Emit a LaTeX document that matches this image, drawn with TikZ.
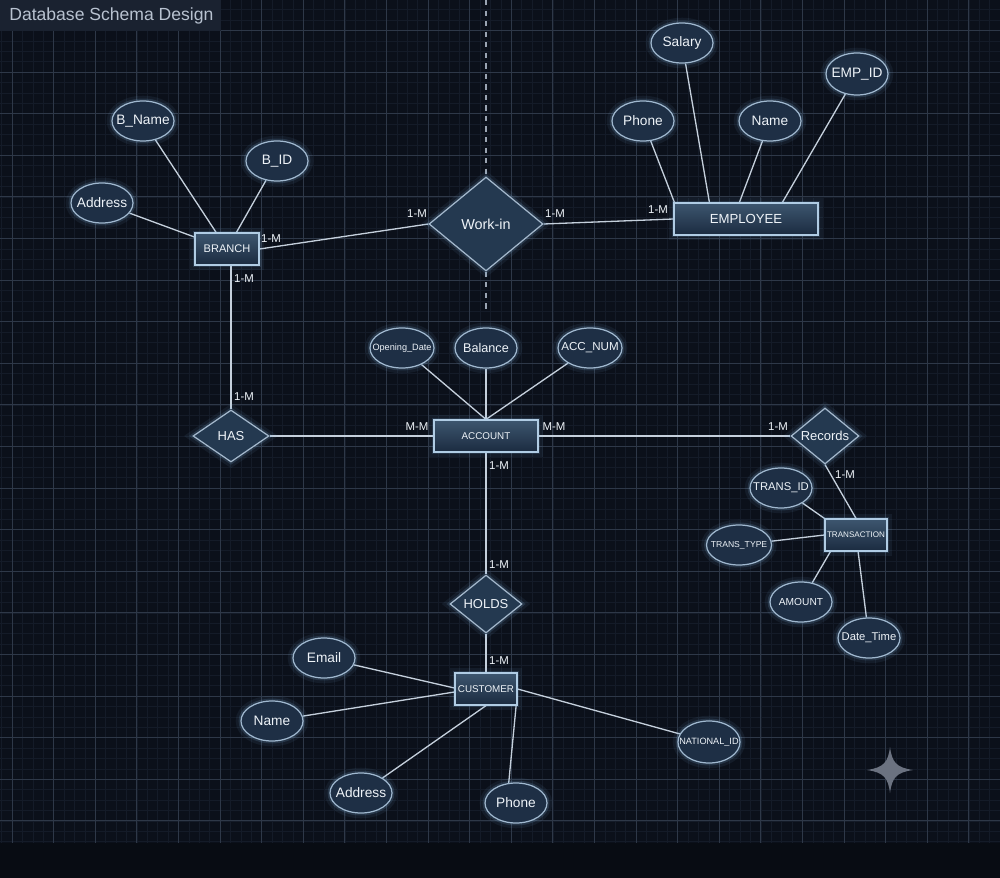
\documentclass[tikz,border=0pt]{standalone}
\usepackage{fontspec}
\setmainfont{Liberation Sans}
\usetikzlibrary{shapes.geometric,calc}
\pgfdeclarelayer{gridlayer}
\pgfdeclarelayer{edgelayer}
\pgfsetlayers{gridlayer,edgelayer,main}
\newcommand{\zw}[1]{\makebox[0pt][c]{#1}}
\definecolor{bgc}{HTML}{0B101A}
\definecolor{bandc}{HTML}{080C13}
\definecolor{majorc}{HTML}{2E3848}
\definecolor{minorc}{HTML}{141B28}
\definecolor{titlebg}{HTML}{1A2230}
\definecolor{titletxt}{HTML}{B8C2D0}
\definecolor{txt}{HTML}{EEF3F8}
\definecolor{linec}{HTML}{C5D0DC}
\definecolor{dashc}{HTML}{9AA4B2}
\definecolor{entb}{HTML}{B0CCE4}
\definecolor{enttop}{HTML}{3D566F}
\definecolor{entbot}{HTML}{1B2B40}
\definecolor{attb}{HTML}{A0B8CF}
\definecolor{attf}{HTML}{1E2F45}
\definecolor{relb}{HTML}{A4B8CC}
\definecolor{relf}{HTML}{243950}
\definecolor{glowc}{HTML}{7FB4E0}
\definecolor{starc}{HTML}{6B7280}
\tikzset{
  glow/.style={preaction={draw=glowc, line width=6pt, opacity=0.08},
               preaction={draw=glowc, line width=2.8pt, opacity=0.16}},
  entity/.style={rectangle, draw=entb, line width=0.7pt, top color=enttop,
    bottom color=entbot, text=txt, inner sep=0pt, minimum height=0.64cm, glow},
  attr/.style={ellipse, draw=attb, line width=0.7pt, fill=attf, text=txt,
    inner sep=0pt, minimum width=1.24cm, minimum height=0.8cm,
    font=\fontsize{7.8}{9}\selectfont, glow},
  rel/.style={diamond, draw=relb, line width=0.7pt, fill=relf, text=txt,
    inner sep=0pt, glow},
  link/.style={draw=linec, line width=0.75pt},
  card/.style={text=txt, font=\fontsize{6.5}{7}\selectfont, inner sep=0pt},
}
\begin{document}
\begin{tikzpicture}[x=0.02cm, y=-0.02cm]
\useasboundingbox (0,0) rectangle (1000,878);
\begin{pgfonlayer}{gridlayer}
  \fill[bgc] (0,0) rectangle (1000,878);
  \foreach \k in {0,...,95} {
    \draw[minorc, line width=0.3pt] ({1.6+10.4*\k},0) -- ({1.6+10.4*\k},843);
  }
  \foreach \k in {0,...,80} {
    \draw[minorc, line width=0.3pt] (0,{9.6+10.4*\k}) -- (1000,{9.6+10.4*\k});
  }
  \foreach \k in {0,...,23} {
    \draw[majorc, line width=0.45pt] ({12+41.6*\k},0) -- ({12+41.6*\k},843);
  }
  \foreach \k in {0,...,19} {
    \draw[majorc, line width=0.45pt] (0,{30.4+41.6*\k}) -- (1000,{30.4+41.6*\k});
  }
  \fill[bandc] (0,843) rectangle (1000,878);
\end{pgfonlayer}

% title
\fill[titlebg] (0,0) rectangle (221,31);
\node[anchor=west, text=titletxt, font=\fontsize{10}{12}\selectfont, inner sep=0pt] (title) at (9,15.5) {Database Schema Design};

% entities
\node[entity, minimum width=1.28cm, font=\fontsize{6.3}{7}\selectfont] (branch) at (227,249) {BRANCH};
\node[entity, minimum width=2.88cm, font=\fontsize{7.5}{8}\selectfont] (employee) at (746,219) {EMPLOYEE};
\node[entity, minimum width=2.08cm, font=\fontsize{5.6}{6}\selectfont] (account) at (486,436) {ACCOUNT};
\node[entity, minimum width=1.24cm, font=\fontsize{4.6}{5}\selectfont] (transaction) at (856,535) {TRANSACTION};
\node[entity, minimum width=1.24cm, font=\fontsize{5.6}{6}\selectfont] (customer) at (486,689) {CUSTOMER};

% relationships
\node[rel, minimum width=2.28cm, minimum height=1.88cm, font=\fontsize{8.2}{9}\selectfont] (workin) at (486,224) {Work-in};
\node[rel, minimum width=1.52cm, minimum height=1.04cm, font=\fontsize{7.4}{8}\selectfont] (has) at (231,436) {HAS};
\node[rel, minimum width=1.36cm, minimum height=1.12cm, font=\fontsize{7.4}{8}\selectfont] (records) at (825,436) {\zw{Records}};
\node[rel, minimum width=1.44cm, minimum height=1.16cm, font=\fontsize{7.4}{8}\selectfont] (holds) at (486,604) {HOLDS};

% attributes
\node[attr] (bname) at (143,121) {\zw{B\_Name}};
\node[attr] (bid) at (277,161) {\zw{B\_ID}};
\node[attr] (baddr) at (102,203) {\zw{Address}};
\node[attr] (salary) at (682,43) {\zw{Salary}};
\node[attr, minimum height=0.84cm] (empid) at (857,74) {\zw{EMP\_ID}};
\node[attr] (ephone) at (643,121) {\zw{Phone}};
\node[attr] (ename) at (770,121) {\zw{Name}};
\node[attr, minimum width=1.28cm, font=\fontsize{5.2}{6}\selectfont] (opening) at (402,348) {\zw{Opening\_Date}};
\node[attr, font=\fontsize{7.2}{8}\selectfont] (balance) at (486,348) {\zw{Balance}};
\node[attr, minimum width=1.28cm, font=\fontsize{6.6}{7}\selectfont] (accnum) at (590,348) {\zw{ACC\_NUM}};
\node[attr, font=\fontsize{6.4}{7}\selectfont] (transid) at (781,488) {\zw{TRANS\_ID}};
\node[attr, minimum width=1.3cm, font=\fontsize{4.9}{6}\selectfont] (transtype) at (739,545) {\zw{TRANS\_TYPE}};
\node[attr, font=\fontsize{5.8}{6}\selectfont] (amount) at (801,602) {\zw{AMOUNT}};
\node[attr, font=\fontsize{6.4}{7}\selectfont] (datetime) at (869,638) {\zw{Date\_Time}};
\node[attr] (email) at (324,658) {\zw{Email}};
\node[attr] (cname) at (272,721) {\zw{Name}};
\node[attr] (caddr) at (361,793) {\zw{Address}};
\node[attr] (cphone) at (516,803) {\zw{Phone}};
\node[attr, minimum height=0.84cm, font=\fontsize{5.2}{6}\selectfont] (natid) at (709,742) {\zw{NATIONAL\_ID}};

% cardinality labels
\node[card] (c1) at (271,239) {1-M};
\node[card] (c2) at (417,214) {1-M};
\node[card] (c3) at (555,214) {1-M};
\node[card] (c4) at (658,210) {1-M};
\node[card] (c5) at (244,279) {1-M};
\node[card] (c6) at (244,397) {1-M};
\node[card] (c7) at (417,427) {M-M};
\node[card] (c8) at (554,427) {M-M};
\node[card] (c9) at (778,427) {1-M};
\node[card] (c10) at (845,475) {1-M};
\node[card] (c11) at (499,466) {1-M};
\node[card] (c12) at (499,565) {1-M};
\node[card] (c13) at (499,661) {1-M};

\coordinate (dtop) at (486,0);
\coordinate (dbot) at (486,312);

\begin{pgfonlayer}{edgelayer}
  \draw[dashc, dashed, line width=0.6pt] (dtop) -- (workin.north);
  \draw[dashc, dashed, line width=0.6pt] (workin.south) -- (dbot);
  % branch
  \draw[link] (bname) -- (branch);
  \draw[link] (bid) -- (branch);
  \draw[link] (baddr) -- (branch);
  \draw[link] (branch.east) -- (workin.west);
  \draw[link] (workin.east) -- (employee.west);
  \draw[link] (has.north) -- (has.north |- branch.south);
  % employee
  \draw[link] (ephone) -- ($(employee.north west)+(1,0)$);
  \draw[link] (salary) -- ($(employee.north west)+(36,0)$);
  \draw[link] (ename) -- ($(employee.north west)+(66,0)$);
  \draw[link] (empid) -- ($(employee.north west)+(109,0)$);
  % account
  \draw[link] (opening) -- (account.north);
  \draw[link] (balance) -- (account.north);
  \draw[link] (accnum) -- (account.north);
  \draw[link] (has.east) -- (account.west);
  \draw[link] (account.east) -- (records.west);
  \draw[link] (account.south) -- (holds.north);
  \draw[link] (holds.south) -- (customer.north);
  % transaction
  \draw[link] (records.south) -- (transaction.north);
  \draw[link] (transid) -- (transaction.north west);
  \draw[link] (transtype) -- (transaction.west);
  \draw[link] (amount) -- ($(transaction.south west)+(6,0)$);
  \draw[link] (datetime) -- (transaction);
  % customer
  \draw[link] (email) -- ($(customer.west)+(0,-1)$);
  \draw[link] (cname) -- ($(customer.west)+(0,3)$);
  \draw[link] (caddr) -- (customer.south);
  \draw[link] ($(customer.south east)+(-1,-5)$) -- (cphone.110);
  \draw[link] (customer.east) -- (natid);
\end{pgfonlayer}

% sparkle
\fill[starc] (890,747) .. controls (892,762) and (896,767.5) .. (913,770)
  .. controls (896,772.5) and (892,778) .. (890,793)
  .. controls (888,778) and (884,772.5) .. (867,770)
  .. controls (884,767.5) and (888,762) .. (890,747) -- cycle;
\end{tikzpicture}
\end{document}
